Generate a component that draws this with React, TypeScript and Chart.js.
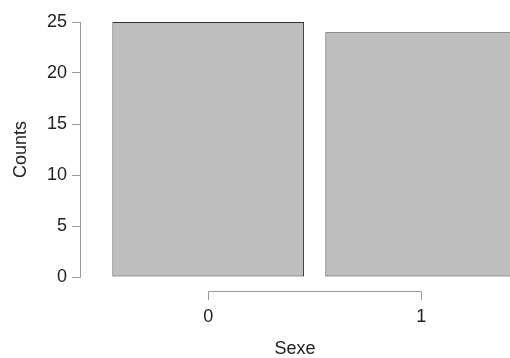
import React, { useEffect, useRef } from "react";
import { Chart, registerables } from "chart.js";

Chart.register(...registerables);

const categories = ["0", "1"];
const counts = [25, 24];
const yTicks = [0, 5, 10, 15, 20, 25];
const xTitle = "Sexe";
const yTitle = "Counts";

const FONT = "'Liberation Sans', Arial, Helvetica, sans-serif";
const AXIS_GRAY = "#9a9a9a";
const TEXT = "#222222";

const bracketPlugin = {
  id: "rBracket",
  afterDraw(chart: any) {
    const xs = chart.scales.x;
    const ctx = chart.ctx;
    const y = chart.chartArea.bottom + 14;
    const x0 = xs.getPixelForValue(0);
    const x1 = xs.getPixelForValue(categories.length - 1);
    ctx.save();
    ctx.strokeStyle = AXIS_GRAY;
    ctx.lineWidth = 1;
    ctx.beginPath();
    ctx.moveTo(Math.round(x0) + 0.5, y + 9);
    ctx.lineTo(Math.round(x0) + 0.5, y + 0.5);
    ctx.lineTo(Math.round(x1) + 0.5, y + 0.5);
    ctx.lineTo(Math.round(x1) + 0.5, y + 9);
    ctx.stroke();
    ctx.restore();
  },
};

export default function App() {
  const ref = useRef<HTMLCanvasElement>(null);
  useEffect(() => {
    if (!ref.current) return;
    const chart = new Chart(ref.current, {
      type: "bar",
      data: {
        datasets: [
          {
            data: categories.map((c, i) => ({ x: i, y: counts[i] })),
            backgroundColor: "#bebebe",
            borderColor: "#333333",
            borderWidth: 1,
            borderSkipped: false,
            categoryPercentage: 1,
            barPercentage: 0.9,
          } as any,
        ],
      },
      options: {
        animation: false,
        responsive: false,
        maintainAspectRatio: false,
        events: [],
        layout: { padding: { top: 22, left: 0, right: 0, bottom: 0 } },
        plugins: { legend: { display: false }, tooltip: { enabled: false } },
        scales: {
          x: {
            type: "linear",
            offset: false,
            min: -0.602,
            max: 1.417,
            grid: { display: false, drawTicks: false, offset: false },
            border: { display: false },
            afterBuildTicks: (s: any) => {
              s.ticks = categories.map((_, i) => ({ value: i }));
            },
            afterFit: (s: any) => {
              s.height = 81;
            },
            ticks: {
              padding: 29,
              color: TEXT,
              font: { family: FONT, size: 18 },
              maxRotation: 0,
              callback: (v: any) => categories[Math.round(Number(v))] ?? "",
            },
            title: {
              display: true,
              text: xTitle,
              color: TEXT,
              font: { family: FONT, size: 18 },
              padding: { top: 0, bottom: -2 },
            },
          },
          y: {
            min: 0,
            max: 25,
            afterBuildTicks: (s: any) => {
              s.ticks = yTicks.map((v) => ({ value: v }));
            },
            afterFit: (s: any) => {
              s.width = 80;
            },
            grid: {
              display: true,
              drawOnChartArea: false,
              drawTicks: true,
              tickLength: 8,
              color: AXIS_GRAY,
            },
            border: { display: true, color: AXIS_GRAY, width: 1 },
            ticks: {
              padding: 5,
              color: TEXT,
              font: { family: FONT, size: 18 },
            },
            title: {
              display: true,
              text: yTitle,
              color: TEXT,
              font: { family: FONT, size: 18 },
              padding: { top: 10, bottom: 0 },
            },
          },
        },
      } as any,
      plugins: [bracketPlugin],
    });
    return () => chart.destroy();
  }, []);
  return (
    <div style={{ position: "fixed", left: 0, top: 0, width: 510, height: 358, background: "#fff" }}>
      <canvas ref={ref} width={510} height={358} style={{ display: "block" }} />
    </div>
  );
}
